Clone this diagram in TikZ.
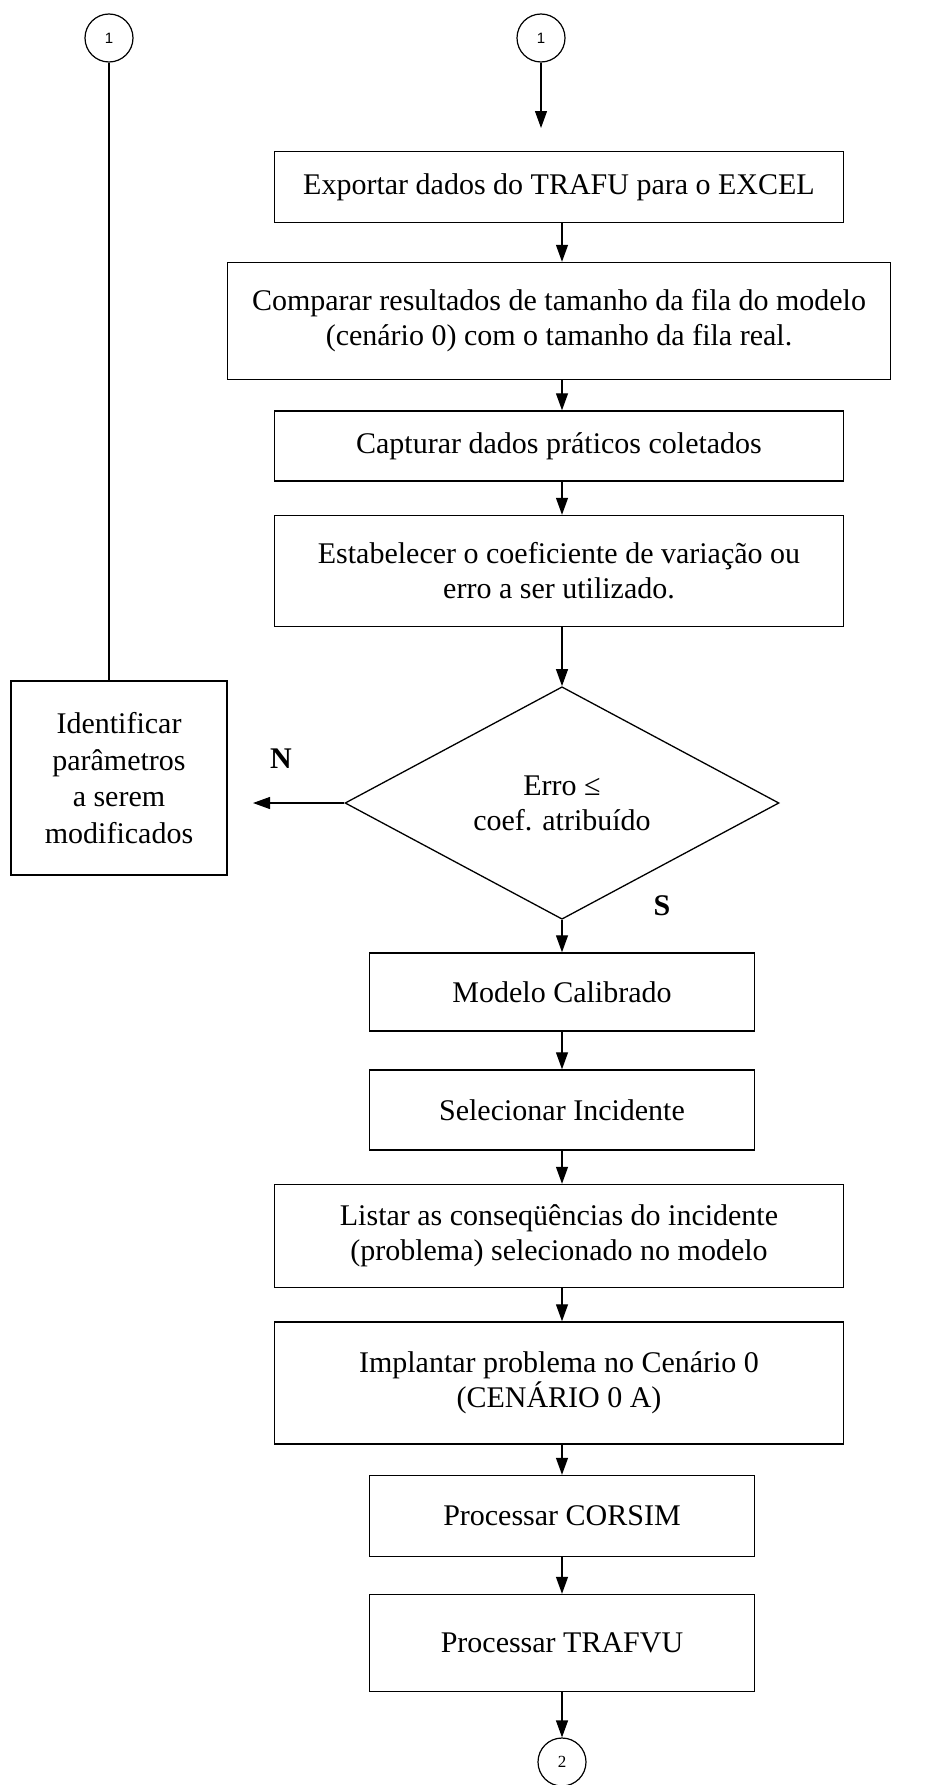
\documentclass[tikz,border=0pt]{standalone}
\usepackage{fontspec}
\setmainfont{Liberation Serif}
\setsansfont{Liberation Sans}
\usetikzlibrary{shapes.geometric,arrows.meta}

\begin{document}
\begin{tikzpicture}[x=1pt,y=-1pt,
	caixa/.style={draw,line width=1.4pt,align=center,inner sep=0pt,font=\fontsize{30}{35}\selectfont},
	larga/.style={caixa,minimum width=569pt},
	curta/.style={caixa,minimum width=385pt},
	losango/.style={diamond,draw,line width=1.3pt,align=center,inner sep=0pt,minimum width=434pt,minimum height=194pt,font=\fontsize{30}{35}\selectfont},
	conector/.style={circle,draw,line width=1.2pt,minimum size=48pt,inner sep=0pt},
	seta/.style={-{Triangle[length=17pt,width=12pt]},line width=1.2pt},
	rotulo/.style={font=\bfseries\fontsize{30}{35}\selectfont}]
	\useasboundingbox (0,0) rectangle (927,1785);
	\node[conector,font=\sffamily\fontsize{15}{15}\selectfont] (umE) at (109,38) {1};
	\node[conector,font=\sffamily\fontsize{15}{15}\selectfont] (umD) at (541,38) {1};
	\coordinate (pontaD) at (541,128);
	\node[larga,minimum height=71pt] (exportar) at (559,187) {Exportar dados do TRAFU para o EXCEL};
	\node[caixa,minimum width=663pt,minimum height=117pt] (comparar) at (559,321) {Comparar resultados de tamanho da fila do modelo\\(cenário 0) com o tamanho da fila real.};
	\node[larga,minimum height=70pt] (capturar) at (559,446) {Capturar dados práticos coletados};
	\node[larga,minimum height=111pt] (estabelecer) at (559,571) {Estabelecer o coeficiente de variação ou\\erro a ser utilizado.};
	\node[losango] (erro) at (562,803) {Erro ≤\\coef. atribuído};
	\node[caixa,minimum width=216pt,minimum height=194pt,font=\fontsize{30}{36.5}\selectfont] (identificar) at (119,778) {Identificar\\parâmetros\\a serem\\modificados};
	\coordinate (pontaN) at (253,803);
	\node[rotulo] (rotN) at (281,759) {N};
	\node[rotulo] (rotS) at (662,906) {S};
	\node[curta,minimum height=78pt] (calibrado) at (562,992) {Modelo Calibrado};
	\node[curta,minimum height=80pt] (incidente) at (562,1110) {Selecionar Incidente};
	\node[larga,minimum height=103pt] (listar) at (559,1236) {Listar as conseqüências do incidente\\(problema) selecionado no modelo};
	\node[larga,minimum height=122pt] (implantar) at (559,1383) {Implantar problema no Cenário 0\\(CENÁRIO 0 A)};
	\node[curta,minimum height=81pt] (corsim) at (562,1516) {Processar CORSIM};
	\node[curta,minimum height=97pt] (trafvu) at (562,1643) {Processar TRAFVU};
	\node[conector,font=\fontsize{17}{17}\selectfont] (dois) at (562,1762) {2};
	\draw[line width=1.2pt] (umE.south) -- (umE.south |- identificar.north);
	\draw[seta] (umD.south) -- (pontaD);
	\draw[seta] (exportar.south -| erro) -- (comparar.north -| erro);
	\draw[seta] (comparar.south -| erro) -- (capturar.north -| erro);
	\draw[seta] (capturar.south -| erro) -- (estabelecer.north -| erro);
	\draw[seta] (estabelecer.south -| erro) -- (erro.north);
	\draw[seta] (erro.west) -- (pontaN);
	\draw[seta] (erro.south) -- (calibrado.north -| erro);
	\draw[seta] (calibrado.south -| erro) -- (incidente.north -| erro);
	\draw[seta] (incidente.south -| erro) -- (listar.north -| erro);
	\draw[seta] (listar.south -| erro) -- (implantar.north -| erro);
	\draw[seta] (implantar.south -| erro) -- (corsim.north -| erro);
	\draw[seta] (corsim.south -| erro) -- (trafvu.north -| erro);
	\draw[seta] (trafvu.south -| erro) -- (dois.north);
\end{tikzpicture}
\end{document}
